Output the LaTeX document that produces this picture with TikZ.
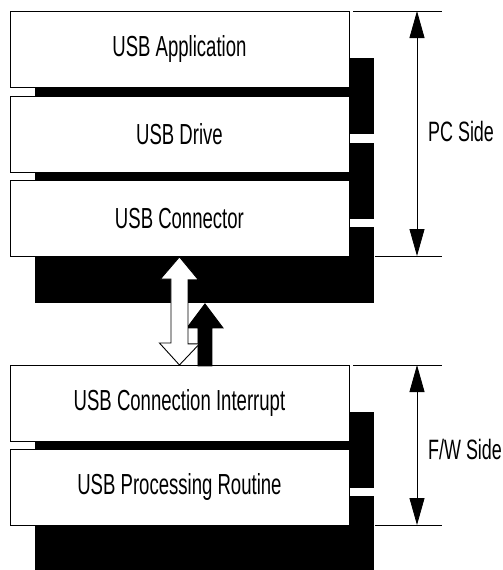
\documentclass[tikz,border=0pt]{standalone}
\usepackage{fontspec}
\setmainfont[FakeStretch=0.64]{Liberation Sans}
\usetikzlibrary{arrows.meta,shadows,calc}

\begin{document}
\begin{tikzpicture}[x=1pt, y=-1pt,
    layer/.style={draw=black, line width=0.9pt, fill=white, inner sep=0pt,
      minimum width=339pt, minimum height=76pt, anchor=north west,
      font=\fontsize{29}{32}\selectfont,
      drop shadow={shadow xshift=25.5pt, shadow yshift=-47pt, fill=black, opacity=1}},
    blockarrow/.style={draw=black, line width=0.9pt, line join=miter},
    dimline/.style={line width=0.6pt},
    dimarrow/.style={line width=0.8pt,
      {Triangle[length=27pt,width=15pt]}-{Triangle[length=27pt,width=15pt]}},
    sidelabel/.style={anchor=west, inner sep=0pt, font=\fontsize{28}{30}\selectfont}]
  \useasboundingbox (0,0) rectangle (503,570);

  % PC side
  \node[layer] (app)  at (9.5,11)  {USB Application};
  \node[layer] (drv)  at (9.5,96)  {USB Drive};
  \node[layer] (conn) at (9.5,180) {USB Connector};

  % F/W side
  \node[layer] (irq)  at (9.5,365) {USB Connection Interrupt};
  \node[layer] (proc) at (9.5,449) {USB Processing Routine};

  % block arrows between the two sides
  \draw[blockarrow, fill=black] ($(conn.south)+(25.5,47)$) -- ++(18,24) -- ++(-11,0)
    -- ++(0,38) -- ++(-14,0) -- ++(0,-38) -- ++(-11,0) -- cycle;
  \draw[blockarrow, fill=white] (conn.south) -- ++(19,23) -- ++(-10.5,0) -- ++(0,64)
    -- ++(11.5,0) -- (irq.north) -- ++(-20,-22) -- ++(11.5,0) -- ++(0,-64)
    -- ++(-10.5,0) -- cycle;

  % dimension marks
  \coordinate (pctop) at (417,11);
  \coordinate (pcbot) at (417,256);
  \coordinate (fwtop) at (417,365);
  \coordinate (fwbot) at (417,525);
  \draw[dimline] (353,11) -- (442,11);
  \draw[dimline] (375,256) -- (442,256);
  \draw[dimline] (353,365) -- (442,365);
  \draw[dimline] (375,525) -- (442,525);
  \draw[dimarrow] (pctop) -- (pcbot);
  \draw[dimarrow] (fwtop) -- (fwbot);
  \node[sidelabel] (pc) at (428,131) {PC Side};
  \node[sidelabel] (fw) at (428,449) {F/W Side};
\end{tikzpicture}
\end{document}
